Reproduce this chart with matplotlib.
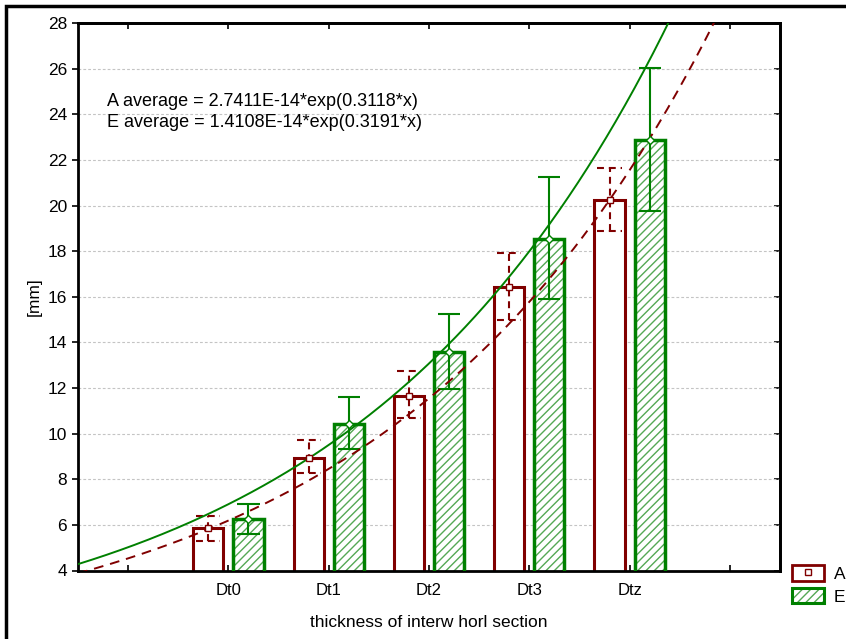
import numpy as np
import matplotlib.pyplot as plt
from matplotlib.patches import Patch, Rectangle
from matplotlib.lines import Line2D
from matplotlib.legend_handler import HandlerTuple

plt.rcParams['font.family'] = ['Liberation Sans', 'DejaVu Sans']
plt.rcParams['hatch.linewidth'] = 1.0
plt.rcParams['lines.scale_dashes'] = False

# group positions on the x scale used by the exponential fits
categories = ['Dt0', 'Dt1', 'Dt2', 'Dt3', 'Dtz']
x_pos = [106, 107, 108, 109, 110]

a_mean = [5.85, 8.94, 11.65, 16.44, 20.24]
a_upper = [6.40, 9.72, 12.74, 17.91, 21.65]
a_lower = [5.31, 8.26, 10.70, 14.98, 18.88]

e_mean = [6.24, 10.42, 13.58, 18.53, 22.87]
e_upper = [6.91, 11.59, 15.24, 21.26, 26.03]
e_lower = [5.60, 9.31, 11.95, 15.88, 19.75]

# y = a * exp(b * x)
a_fit = (2.7411e-14, 0.3118)
e_fit = (1.4108e-14, 0.3191)

maroon = '#800000'
green = '#008000'
light_green = '#55a855'

fig = plt.figure(figsize=(8.46, 6.39), dpi=100)
ax = fig.add_axes([78 / 846, 1 - 570.5 / 639, 702 / 846, 547.5 / 639])

x = np.array(x_pos, dtype=float)
off = 0.2
width = 0.30

# A bars: white with maroon outline
ax.bar(x - off, a_mean, width=width, color='white', edgecolor=maroon, linewidth=2.2, zorder=2)

# E bars: light green hatch under a solid green outline
ax.bar(x + off, e_mean, width=width, color='white', edgecolor=light_green, hatch='////',
       linewidth=0, zorder=2)
ax.bar(x + off, e_mean, width=width, fill=False, edgecolor=green, linewidth=2.5, zorder=3)

# error bars, A dashed
dash = (0, (5, 3.5))
ax.vlines(x - off, a_lower, a_upper, colors=maroon, linestyles=dash, linewidth=1.5, zorder=4)
ax.hlines(a_upper, x - off - 0.12, x - off + 0.12, colors=maroon, linestyles=dash, linewidth=1.5, zorder=4)
ax.hlines(a_lower, x - off - 0.12, x - off + 0.12, colors=maroon, linestyles=dash, linewidth=1.5, zorder=4)
ax.plot(x - off, a_mean, ls='none', marker='s', ms=5, mfc='white', mec=maroon, mew=1.0, zorder=6)

# error bars, E solid
ax.vlines(x + off, e_lower, e_upper, colors=green, linewidth=1.5, zorder=4)
ax.hlines(e_upper, x + off - 0.11, x + off + 0.11, colors=green, linewidth=1.5, zorder=4)
ax.hlines(e_lower, x + off - 0.11, x + off + 0.11, colors=green, linewidth=1.5, zorder=4)
ax.plot(x + off, e_mean, ls='none', marker='D', ms=4, mfc='white', mec=green, mew=1.0, zorder=6)

# fitted exponential curves
xs = np.linspace(104.5, 111.5, 300)
ax.plot(xs, a_fit[0] * np.exp(a_fit[1] * xs), color=maroon, lw=1.4, dashes=(7, 5), zorder=5)
ax.plot(xs, e_fit[0] * np.exp(e_fit[1] * xs), color=green, lw=1.4, zorder=5)

ax.text(104.79, 24.54, f'A average = {a_fit[0]:.4E}*exp({a_fit[1]}*x)', fontsize=13, va='center')
ax.text(104.79, 23.62, f'E average = {e_fit[0]:.4E}*exp({e_fit[1]}*x)', fontsize=13, va='center')

ax.set_xlim(104.5, 111.5)
ax.set_ylim(4, 28)
ax.set_xticks([105] + x_pos + [111])
ax.set_xticklabels([''] + categories + [''], fontsize=12)
ax.set_yticks(np.arange(4, 29, 2))
ax.tick_params(axis='y', labelsize=12.5, direction='out', length=4, width=1.2, pad=4)
ax.tick_params(axis='x', direction='in', length=4, width=1.2, pad=9)
ax.grid(axis='y', color='#c4c4c4', linestyle=(0, (2, 1.5)), linewidth=0.8, zorder=0)
ax.set_axisbelow(True)
for s in ax.spines.values():
    s.set_linewidth(2)

top = ax.secondary_xaxis('top')
top.set_xticks([105] + x_pos + [111])
top.tick_params(direction='in', length=4, width=1.2, labeltop=False)
top.spines['top'].set_linewidth(2)
right = ax.secondary_yaxis('right')
right.set_yticks(np.arange(4, 29, 2))
right.tick_params(direction='in', length=4, width=1.2, labelright=False)
right.spines['right'].set_linewidth(2)

ax.set_xlabel('thickness of interw horl section', fontsize=12.5, labelpad=12)
ax.set_ylabel('[mm]', fontsize=12.5, labelpad=4)

# legend outside the plot, lower right
a_handle = (Patch(facecolor='white', edgecolor=maroon, linewidth=2),
            Line2D([], [], ls='none', marker='s', ms=5, mfc='white', mec=maroon))
e_handle = (Patch(facecolor='white', edgecolor=light_green, hatch='////', linewidth=0),
            Patch(fill=False, edgecolor=green, linewidth=2.2))
fig.legend([a_handle, e_handle], ['A', 'E'], handler_map={tuple: HandlerTuple(ndivide=1)},
           loc='upper left', bbox_to_anchor=(792 / 846, 1 - 565 / 639), frameon=False,
           borderpad=0, borderaxespad=0, handlelength=1.86, handleheight=1.0,
           handletextpad=0.55, labelspacing=0.35, fontsize=12.5)

# outer frame of the figure
fig.patches.append(Rectangle((6 / 846, -0.1), 1.2, 1.1 - 6 / 639, transform=fig.transFigure,
                             fill=False, edgecolor='black', linewidth=2.5))

fig.savefig('out.png', dpi=100)
